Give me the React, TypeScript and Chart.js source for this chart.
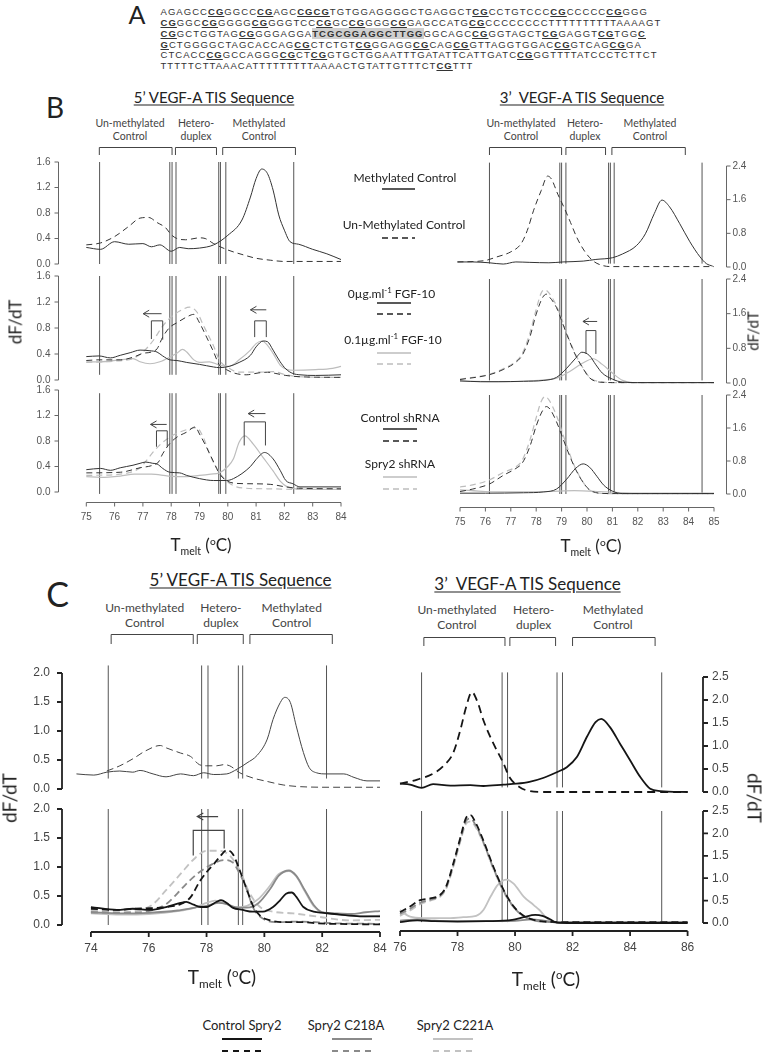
import React, { useEffect, useRef } from "react";
import { Chart, registerables } from "chart.js";

Chart.register(...registerables);

type Pt = [number, number];

// ================= Panel A: sequence =================
const seqLines: string[] = [
  "AGAGCC{CG}GGCC{CG}AGC{CGCG}TGTGGAGGGGCTGAGGCT{CG}CCTGTCCC{CG}CCCCC{CG}GGG",
  "{CG}GGC{CG}GGGG{CG}GGGTCC{CG}GC{CG}GGG{CG}GAGCCATG{CG}CCCCCCCCTTTTTTTTTTAAAAGT",
  "{CG}GCTGGTAG{CG}GGGAGGA[TCGCGGAGGCTTGG]GGCAGC{CG}GGTAGCT{CG}GAGGT{CG}TGG{C}",
  "{G}CTGGGGCTAGCACCAG{CG}CTCTGT{CG}GGAGG{CG}CAG{CG}GTTAGGTGGAC{CG}GTCAG{CG}GA",
  "CTCACC{CG}GCCAGGG{CG}CT{CG}GTGCTGGAATTTGATATTCATTGATC{CG}GGTTTTATCCCTCTTCT",
  "TTTTTCTTAAACATTTTTTTTTAAAACTGTATTGTTTCT{CG}TTT",
];

// ================= Panel B: 5' =================
const b5YTicks = [0, 0.4, 0.8, 1.2, 1.6];
const b5XTicks = [75, 76, 77, 78, 79, 80, 81, 82, 83, 84];
const b5VLines = [75.47, 77.95, 78.03, 78.17, 79.68, 79.74, 79.93, 82.33];
const b5Regions: Pt[] = [[75.46, 78.03], [78.15, 79.6], [79.82, 82.39]];

const b5MethCtrl: Pt[] = [[75.0,0.26],[75.5,0.23],[76.0,0.35],[76.5,0.31],[77.0,0.32],[77.3,0.27],[77.6,0.30],[78.0,0.20],[78.3,0.26],[78.6,0.24],[79.0,0.25],[79.5,0.30],[80.0,0.45],[80.5,0.69],[80.8,1.05],[81.0,1.34],[81.2,1.49],[81.4,1.42],[81.6,1.16],[81.8,0.77],[82.0,0.53],[82.2,0.35],[82.5,0.31],[83.0,0.23],[83.5,0.16],[84.0,0.07]];
const b5UnmethCtrl: Pt[] = [[75.0,0.30],[75.5,0.33],[76.0,0.43],[76.5,0.59],[76.9,0.72],[77.2,0.73],[77.5,0.65],[77.8,0.57],[78.0,0.46],[78.2,0.40],[78.5,0.38],[79.0,0.41],[79.2,0.40],[79.5,0.32],[80.0,0.22],[80.5,0.15],[81.0,0.09],[81.5,0.06],[82.0,0.04],[83.0,0.04],[84.0,0.04]];

const b5Fgf0Solid: Pt[] = [[75.0,0.36],[75.45,0.37],[75.85,0.34],[76.2,0.38],[76.55,0.42],[76.9,0.46],[77.25,0.45],[77.5,0.43],[77.7,0.37],[77.95,0.31],[78.2,0.30],[78.55,0.27],[79.0,0.24],[79.5,0.20],[79.7,0.19],[80.05,0.21],[80.4,0.27],[80.8,0.38],[81.0,0.51],[81.25,0.60],[81.4,0.59],[81.6,0.46],[81.85,0.28],[82.05,0.17],[82.3,0.10],[82.55,0.08],[83.1,0.07],[84.0,0.08]];
const b5Fgf0Dash: Pt[] = [[75.0,0.30],[75.45,0.31],[76.2,0.31],[76.65,0.35],[77.0,0.41],[77.3,0.43],[77.5,0.48],[77.7,0.66],[77.95,0.81],[78.2,0.88],[78.55,0.97],[78.8,1.01],[79.0,0.88],[79.25,0.66],[79.5,0.43],[79.7,0.23],[79.95,0.16],[80.2,0.11],[80.65,0.08],[81.1,0.11],[81.4,0.12],[81.7,0.10],[82.05,0.07],[82.55,0.05],[84.0,0.04]];
const b5Fgf01Solid: Pt[] = [[75.0,0.28],[75.5,0.28],[76.2,0.31],[76.65,0.33],[76.9,0.28],[77.25,0.25],[77.6,0.28],[77.95,0.35],[78.2,0.41],[78.4,0.47],[78.55,0.43],[78.8,0.31],[79.0,0.27],[79.35,0.28],[79.7,0.23],[80.05,0.21],[80.4,0.31],[80.8,0.46],[81.0,0.56],[81.2,0.60],[81.35,0.56],[81.6,0.41],[81.85,0.23],[82.05,0.17],[82.3,0.15],[83.1,0.16],[83.7,0.18],[84.0,0.21]];
const b5Fgf01Dash: Pt[] = [[75.0,0.27],[76.0,0.29],[76.65,0.33],[77.0,0.43],[77.35,0.60],[77.7,0.83],[77.95,0.95],[78.3,1.06],[78.65,1.12],[78.9,1.05],[79.15,0.83],[79.5,0.52],[79.7,0.31],[80.05,0.18],[80.4,0.12],[81.1,0.12],[81.6,0.13],[82.05,0.08],[82.55,0.05],[84.0,0.04]];

const b5ShCtrlSolid: Pt[] = [[75.0,0.35],[75.5,0.37],[75.85,0.34],[76.2,0.38],[76.65,0.42],[76.9,0.45],[77.1,0.47],[77.35,0.45],[77.5,0.44],[77.7,0.37],[77.95,0.31],[78.3,0.30],[78.55,0.26],[79.0,0.21],[79.5,0.18],[79.95,0.18],[80.2,0.21],[80.8,0.40],[81.0,0.51],[81.3,0.62],[81.6,0.52],[81.85,0.34],[82.05,0.18],[82.3,0.13],[82.55,0.08],[84.0,0.08]];
const b5ShCtrlDash: Pt[] = [[75.0,0.30],[76.2,0.31],[76.9,0.38],[77.35,0.42],[77.55,0.47],[77.7,0.60],[77.95,0.76],[78.2,0.86],[78.55,0.94],[78.85,1.02],[79.0,0.91],[79.25,0.70],[79.5,0.47],[79.7,0.29],[79.95,0.18],[80.2,0.14],[80.7,0.13],[81.5,0.12],[82.05,0.08],[82.5,0.06],[84.0,0.05]];
const b5ShSprySolid: Pt[] = [[75.0,0.24],[75.5,0.23],[76.2,0.25],[76.7,0.28],[77.3,0.28],[77.9,0.25],[78.5,0.24],[79.0,0.26],[79.4,0.28],[79.7,0.30],[80.0,0.40],[80.2,0.52],[80.4,0.78],[80.6,0.88],[80.9,0.75],[81.25,0.54],[81.6,0.33],[81.85,0.17],[82.1,0.08],[82.4,0.05],[84.0,0.04]];
const b5ShSpryDash: Pt[] = [[75.0,0.26],[76.2,0.28],[76.9,0.38],[77.1,0.48],[77.35,0.62],[77.6,0.74],[77.95,0.86],[78.3,0.94],[78.65,0.99],[78.9,1.01],[79.15,0.84],[79.35,0.60],[79.6,0.38],[79.85,0.22],[80.2,0.10],[80.6,0.06],[81.5,0.05],[82.5,0.04],[84.0,0.04]];

// ================= Panel B: 3' =================
const b3YTicks = [0, 0.8, 1.6, 2.4];
const b3XTicks = [75, 76, 77, 78, 79, 80, 81, 82, 83, 84, 85];
const b3VLines = [76.16, 78.93, 79.0, 79.17, 80.85, 80.92, 81.07, 84.53];
const b3Regions: Pt[] = [[76.16, 79.0], [79.17, 80.73], [80.98, 83.87]];

const b3MethCtrl: Pt[] = [[74.9,0.12],[75.5,0.12],[76.15,0.10],[76.7,0.07],[77.2,0.12],[77.75,0.11],[78.5,0.10],[79.05,0.12],[79.85,0.14],[80.35,0.18],[81.0,0.22],[81.4,0.31],[81.95,0.51],[82.3,0.79],[82.65,1.27],[82.95,1.59],[83.25,1.43],[83.65,1.03],[84.05,0.60],[84.45,0.24],[84.7,0.08],[84.95,0.02]];
const b3UnmethCtrl: Pt[] = [[74.9,0.12],[75.95,0.15],[76.45,0.24],[77.0,0.36],[77.4,0.55],[77.65,0.87],[77.9,1.35],[78.2,1.82],[78.45,2.16],[78.6,2.09],[78.85,1.73],[79.1,1.41],[79.35,1.06],[79.6,0.70],[79.9,0.38],[80.25,0.14],[80.65,0.03],[81.0,0.01],[85.0,0.01]];

const b3Fgf0Dash: Pt[] = [[75.0,0.08],[76.15,0.19],[76.7,0.31],[77.2,0.48],[77.45,0.64],[77.75,1.06],[78.0,1.59],[78.25,1.97],[78.4,2.05],[78.5,2.0],[78.8,1.74],[79.05,1.36],[79.3,0.98],[79.55,0.64],[79.85,0.33],[80.1,0.12],[80.5,0.02],[81.0,0.01],[85.0,0.01]];
const b3Fgf01Dash: Pt[] = [[75.0,0.09],[76.15,0.20],[76.7,0.33],[77.2,0.50],[77.45,0.68],[77.75,1.15],[78.0,1.70],[78.2,2.08],[78.35,2.15],[78.5,2.08],[78.8,1.78],[79.05,1.40],[79.3,1.00],[79.55,0.66],[79.85,0.34],[80.1,0.13],[80.5,0.03],[81.0,0.01],[85.0,0.01]];
const b3Fgf0Solid: Pt[] = [[75.0,0.05],[75.8,0.03],[76.5,0.03],[77.5,0.04],[78.3,0.06],[78.8,0.13],[79.2,0.34],[79.55,0.57],[79.8,0.71],[80.1,0.63],[80.35,0.42],[80.6,0.23],[81.0,0.09],[81.4,0.02],[82.0,0.01],[85.0,0.01]];
const b3Fgf01Solid: Pt[] = [[75.0,0.04],[76.5,0.03],[77.5,0.04],[78.3,0.07],[78.8,0.11],[79.3,0.26],[79.8,0.45],[80.25,0.56],[80.6,0.43],[81.0,0.23],[81.4,0.06],[81.8,0.01],[85.0,0.01]];

const b3ShCtrlDash: Pt[] = [[75.0,0.06],[75.5,0.12],[76.15,0.24],[76.7,0.45],[77.2,0.62],[77.45,0.75],[77.75,1.15],[78.0,1.65],[78.25,2.02],[78.4,2.12],[78.55,2.05],[78.8,1.75],[79.05,1.35],[79.3,0.95],[79.55,0.60],[79.85,0.28],[80.1,0.10],[80.5,0.02],[81.0,0.01],[85.0,0.01]];
const b3ShSpryDash: Pt[] = [[75.0,0.17],[75.5,0.22],[76.15,0.34],[76.7,0.52],[77.2,0.66],[77.45,0.82],[77.75,1.30],[78.0,1.85],[78.2,2.25],[78.35,2.36],[78.5,2.28],[78.8,1.90],[79.05,1.45],[79.3,1.00],[79.55,0.62],[79.85,0.28],[80.1,0.10],[80.5,0.02],[81.0,0.01],[85.0,0.01]];
const b3ShCtrlSolid: Pt[] = [[75.0,0.02],[76.0,0.02],[77.5,0.03],[78.3,0.05],[78.8,0.12],[79.2,0.36],[79.55,0.62],[79.85,0.73],[80.1,0.65],[80.4,0.42],[80.65,0.22],[81.0,0.07],[81.4,0.01],[85.0,0.01]];
const b3ShSprySolid: Pt[] = [[75.0,0.10],[76.0,0.06],[77.0,0.05],[78.5,0.06],[79.5,0.08],[80.5,0.06],[81.5,0.03],[83.0,0.02],[85.0,0.02]];

// ================= Panel C: 5' =================
const c5YTicks = [0, 0.5, 1.0, 1.5, 2.0];
const c5XTicks = [74, 76, 78, 80, 82, 84];
const c5VLines = [74.6, 77.83, 78.05, 79.1, 79.25, 82.15];
const c5Regions: Pt[] = [[74.7, 77.54], [77.68, 79.27], [79.5, 82.35]];

const c5MethCtrl: Pt[] = [[73.5,0.26],[74.1,0.24],[74.55,0.29],[75.0,0.31],[75.45,0.29],[75.7,0.32],[76.15,0.26],[76.6,0.21],[77.1,0.26],[77.55,0.23],[77.9,0.28],[78.25,0.25],[78.7,0.26],[79.05,0.34],[79.4,0.45],[79.75,0.58],[80.1,0.86],[80.3,1.20],[80.55,1.49],[80.7,1.58],[80.9,1.49],[81.1,1.09],[81.35,0.63],[81.55,0.37],[81.8,0.28],[82.15,0.26],[82.75,0.26],[83.1,0.20],[83.55,0.14],[84.0,0.14]];
const c5UnmethCtrl: Pt[] = [[74.55,0.31],[75.0,0.40],[75.45,0.52],[75.9,0.66],[76.4,0.75],[76.6,0.71],[77.1,0.62],[77.45,0.56],[77.75,0.42],[78.0,0.40],[78.35,0.40],[78.6,0.42],[78.8,0.40],[79.15,0.28],[79.6,0.19],[80.1,0.13],[80.65,0.07],[81.25,0.04],[82.4,0.03],[83.55,0.03],[84.0,0.03]];

const c5CtrlSolid: Pt[] = [[74.0,0.31],[74.9,0.26],[75.45,0.28],[76.05,0.26],[76.6,0.31],[77.1,0.38],[77.3,0.40],[77.55,0.35],[77.8,0.31],[78.0,0.31],[78.35,0.40],[78.5,0.43],[78.7,0.38],[78.9,0.30],[79.25,0.26],[79.6,0.23],[79.95,0.23],[80.3,0.31],[80.55,0.43],[80.75,0.54],[80.95,0.56],[81.1,0.49],[81.35,0.31],[81.7,0.23],[82.05,0.21],[82.6,0.18],[83.3,0.15],[84.0,0.15]];
const c5CtrlDash: Pt[] = [[74.0,0.28],[74.9,0.26],[75.45,0.28],[76.05,0.29],[76.6,0.31],[77.1,0.36],[77.45,0.48],[77.75,0.74],[78.0,0.91],[78.25,1.05],[78.45,1.17],[78.7,1.29],[78.9,1.23],[79.15,0.94],[79.4,0.60],[79.6,0.34],[79.85,0.16],[80.2,0.08],[80.65,0.05],[81.25,0.05],[81.8,0.03],[82.4,0.02],[84.0,0.01]];
const c5C218Solid: Pt[] = [[74.0,0.22],[75.0,0.20],[76.0,0.21],[77.0,0.25],[77.6,0.30],[78.0,0.33],[78.4,0.38],[78.7,0.36],[79.0,0.31],[79.4,0.30],[79.8,0.38],[80.2,0.62],[80.5,0.85],[80.85,0.94],[81.1,0.85],[81.4,0.60],[81.7,0.35],[82.0,0.22],[82.5,0.20],[83.0,0.19],[83.5,0.22],[84.0,0.24]];
const c5C218Dash: Pt[] = [[74.0,0.22],[75.0,0.21],[76.0,0.24],[76.6,0.36],[77.0,0.55],[77.3,0.71],[77.75,0.91],[78.2,1.05],[78.6,1.12],[78.9,1.08],[79.15,0.88],[79.4,0.60],[79.6,0.31],[79.95,0.11],[80.45,0.05],[81.2,0.06],[82.4,0.03],[84.0,0.02]];
const c5C221Solid: Pt[] = [[74.0,0.20],[75.0,0.18],[76.0,0.19],[77.0,0.24],[77.6,0.30],[78.0,0.38],[78.3,0.42],[78.6,0.38],[79.0,0.30],[79.4,0.33],[79.8,0.45],[80.2,0.68],[80.5,0.88],[80.85,0.93],[81.1,0.84],[81.4,0.58],[81.7,0.33],[82.0,0.22],[82.5,0.19],[83.0,0.16],[83.5,0.15],[84.0,0.16]];
const c5C221Dash: Pt[] = [[74.0,0.25],[75.0,0.22],[75.7,0.26],[76.15,0.36],[76.6,0.60],[77.1,0.88],[77.55,1.13],[78.0,1.28],[78.45,1.28],[78.8,1.20],[79.15,0.94],[79.5,0.54],[79.85,0.31],[80.3,0.23],[81.0,0.20],[81.9,0.14],[82.95,0.08],[84.0,0.09]];

// ================= Panel C: 3' =================
const c3YTicks = [0, 0.5, 1.0, 1.5, 2.0, 2.5];
const c3XTicks = [76, 78, 80, 82, 84, 86];
const c3VLines = [76.75, 79.55, 79.74, 81.46, 81.65, 85.1];
const c3Regions: Pt[] = [[76.83, 79.65], [79.82, 81.41], [82.0, 84.87]];

const c3MethCtrl: Pt[] = [[76.0,0.18],[76.35,0.16],[76.75,0.09],[77.15,0.17],[77.75,0.14],[78.45,0.15],[78.9,0.13],[79.6,0.16],[80.05,0.18],[80.5,0.22],[81.0,0.31],[81.45,0.43],[81.8,0.54],[82.15,0.76],[82.5,1.20],[82.8,1.52],[83.0,1.59],[83.3,1.41],[83.65,1.05],[84.0,0.69],[84.35,0.33],[84.7,0.07],[85.05,0.02],[86.0,0.0]];
const c3UnmethCtrl: Pt[] = [[76.0,0.18],[76.6,0.27],[77.15,0.40],[77.5,0.56],[77.85,0.85],[78.1,1.35],[78.3,1.85],[78.5,2.17],[78.7,1.95],[78.9,1.56],[79.25,1.05],[79.6,0.62],[79.8,0.33],[80.15,0.11],[80.5,0.02],[81.0,0.0],[86.0,0.0]];

const c3CtrlSolid: Pt[] = [[76.0,0.02],[76.6,0.06],[77.2,0.04],[78.0,0.03],[79.0,0.04],[79.9,0.07],[80.3,0.13],[80.7,0.18],[80.95,0.16],[81.2,0.09],[81.45,0.01],[82.0,0.0],[86.0,0.0]];
const c3CtrlDash: Pt[] = [[76.0,0.24],[76.35,0.37],[76.7,0.51],[77.05,0.55],[77.4,0.63],[77.6,0.81],[77.85,1.32],[78.1,1.91],[78.3,2.35],[78.45,2.41],[78.65,2.21],[78.9,1.84],[79.25,1.25],[79.6,0.74],[79.95,0.37],[80.3,0.16],[80.65,0.07],[81.0,0.03],[82.0,0.02],[86.0,0.02]];
const c3C218Solid: Pt[] = [[76.0,0.05],[76.6,0.08],[77.2,0.05],[78.0,0.04],[79.0,0.04],[80.0,0.05],[80.6,0.08],[81.0,0.05],[81.5,0.01],[86.0,0.01]];
const c3C218Dash: Pt[] = [[76.0,0.20],[76.35,0.32],[76.7,0.45],[77.05,0.52],[77.4,0.61],[77.6,0.78],[77.85,1.28],[78.1,1.86],[78.3,2.28],[78.45,2.33],[78.65,2.16],[78.9,1.80],[79.25,1.22],[79.6,0.72],[79.95,0.36],[80.3,0.15],[80.65,0.06],[81.0,0.03],[82.0,0.02],[86.0,0.02]];
const c3C221Solid: Pt[] = [[76.0,0.29],[76.35,0.14],[76.8,0.11],[77.75,0.11],[78.2,0.13],[78.65,0.16],[78.9,0.29],[79.15,0.59],[79.4,0.85],[79.7,0.97],[79.95,0.88],[80.3,0.59],[80.65,0.40],[80.85,0.29],[81.1,0.11],[81.45,0.01],[82.0,0.0],[86.0,0.0]];
const c3C221Dash: Pt[] = [[76.0,0.16],[76.35,0.28],[76.7,0.42],[77.05,0.50],[77.4,0.59],[77.6,0.76],[77.85,1.25],[78.1,1.83],[78.3,2.22],[78.45,2.27],[78.65,2.12],[78.9,1.78],[79.25,1.20],[79.6,0.70],[79.95,0.35],[80.3,0.15],[80.65,0.06],[81.0,0.03],[82.0,0.02],[86.0,0.02]];

// ================= styles =================
const BK = "#333333";
const BL = "#bdbdbd";
const CK = "#151515";
const CG = "#8a8a8a";
const CL = "#c2c2c2";
const DASH_B = [6, 4];
const DASH_C = [7, 4];

type Series = { pts: Pt[]; color: string; dash?: number[]; width?: number };
type Br = { x1: number; x2: number; top: number; l: number; r: number };
type Ar = { from: number; to: number; y: number };
type AxisStyle = { color: string; width: number; tick: number; font: string; text: string; yGap: number; xDy: number };

const AX_B: AxisStyle = { color: "#666", width: 1, tick: 4, font: '10px "Liberation Sans", Arial, sans-serif', text: "#555", yGap: 4, xDy: 15 };
const AX_BR: AxisStyle = { ...AX_B, yGap: 2 };
const AX_C: AxisStyle = { color: "#222", width: 1.8, tick: 5, font: '12px "Liberation Sans", Arial, sans-serif', text: "#444", yGap: 7, xDy: 17 };
const AX_CR: AxisStyle = { ...AX_C, yGap: 4 };

interface PlotProps {
  area: number[];
  xr: number[];
  yr: number[];
  series: Series[];
  vlines: number[];
  vr: number[];
  vWidth?: number;
  yTicks: number[];
  ySide: "left" | "right";
  axis: AxisStyle;
  xTicks?: number[];
  xGap?: number;
  regions?: Pt[];
  regY?: number[];
  brackets?: Br[];
  arrows?: Ar[];
  annWidth?: number;
}

const PAD = { left: 56, top: 50, right: 56, bottom: 44 };

function Plot(p: PlotProps) {
  const ref = useRef<HTMLCanvasElement | null>(null);
  const L = Math.round(p.area[0]);
  const T = Math.round(p.area[1]);
  const R = Math.round(p.area[2]);
  const B = Math.round(p.area[3]);
  const w = R - L + PAD.left + PAD.right;
  const h = B - T + PAD.top + PAD.bottom;

  useEffect(() => {
    const canvas = ref.current;
    if (!canvas) return;
    const decor = {
      id: "decor",
      afterDraw(chart: any) {
        const ctx = chart.ctx;
        const a = chart.chartArea;
        const xs = chart.scales.x;
        const ys = chart.scales.y;
        const px = (v: number) => xs.getPixelForValue(v);
        const py = (v: number) => ys.getPixelForValue(v);
        const ax = p.axis;
        const off = ax.width === 1 ? 0.5 : 0;
        ctx.save();
        ctx.strokeStyle = ax.color;
        ctx.lineWidth = ax.width;
        ctx.fillStyle = ax.text;
        ctx.font = ax.font;
        const yx = (p.ySide === "left" ? a.left : a.right) + off;
        const dir = p.ySide === "left" ? -1 : 1;
        const yt = p.yTicks;
        ctx.beginPath();
        ctx.moveTo(yx, py(yt[0]));
        ctx.lineTo(yx, py(yt[yt.length - 1]));
        for (const t of yt) {
          ctx.moveTo(yx, py(t));
          ctx.lineTo(yx + dir * ax.tick, py(t));
        }
        ctx.stroke();
        ctx.textBaseline = "middle";
        ctx.textAlign = p.ySide === "left" ? "right" : "left";
        for (const t of yt) ctx.fillText(t.toFixed(1), yx + dir * (ax.tick + ax.yGap), py(t));
        if (p.xTicks) {
          const xt = p.xTicks;
          const yy = a.bottom + (p.xGap || 0) + off;
          ctx.beginPath();
          ctx.moveTo(px(xt[0]), yy);
          ctx.lineTo(px(xt[xt.length - 1]), yy);
          for (const t of xt) {
            ctx.moveTo(px(t), yy);
            ctx.lineTo(px(t), yy + ax.tick);
          }
          ctx.stroke();
          ctx.textAlign = "center";
          for (const t of xt) ctx.fillText(String(t), px(t), yy + ax.xDy);
        }
        ctx.strokeStyle = "#444";
        ctx.lineWidth = p.annWidth || 1;
        if (p.regions && p.regY) {
          const top = a.top + p.regY[0] - T + 0.5;
          const bot = a.top + p.regY[1] - T;
          ctx.beginPath();
          for (const [x1, x2] of p.regions) {
            ctx.moveTo(px(x1), bot);
            ctx.lineTo(px(x1), top);
            ctx.lineTo(px(x2), top);
            ctx.lineTo(px(x2), bot);
          }
          ctx.stroke();
        }
        if (p.brackets) {
          ctx.beginPath();
          for (const b of p.brackets) {
            ctx.moveTo(px(b.x1), py(b.l));
            ctx.lineTo(px(b.x1), py(b.top));
            ctx.lineTo(px(b.x2), py(b.top));
            ctx.lineTo(px(b.x2), py(b.r));
          }
          ctx.stroke();
        }
        if (p.arrows) {
          ctx.beginPath();
          for (const r of p.arrows) {
            const x0 = px(r.from), x1 = px(r.to), y0 = py(r.y);
            ctx.moveTo(x0, y0);
            ctx.lineTo(x1, y0);
            ctx.moveTo(x1 + 6, y0 - 3.5);
            ctx.lineTo(x1, y0);
            ctx.lineTo(x1 + 6, y0 + 3.5);
          }
          ctx.stroke();
        }
        ctx.restore();
      },
    };

    const datasets: any[] = [
      ...p.series.map((s) => ({
        data: s.pts.map(([x, y]) => ({ x, y })),
        borderColor: s.color,
        borderWidth: s.width ?? 1,
        borderDash: s.dash ?? [],
        pointRadius: 0,
        fill: false,
        cubicInterpolationMode: "monotone",
        clip: false,
      })),
      ...p.vlines.map((v) => ({
        data: [{ x: v, y: p.vr[0] }, { x: v, y: p.vr[1] }],
        borderColor: "#555",
        borderWidth: p.vWidth ?? 1,
        pointRadius: 0,
        fill: false,
        tension: 0,
        clip: false,
      })),
    ];

    const chart = new Chart(canvas, {
      type: "line",
      data: { datasets },
      options: {
        animation: false,
        responsive: false,
        events: [],
        layout: { padding: PAD },
        scales: {
          x: { type: "linear", min: p.xr[0], max: p.xr[1], display: false },
          y: { type: "linear", min: p.yr[0], max: p.yr[1], display: false },
        },
        plugins: { legend: { display: false }, tooltip: { enabled: false } },
      } as any,
      plugins: [decor as any],
    });
    return () => chart.destroy();
  }, []);

  return (
    <canvas
      ref={ref}
      width={w}
      height={h}
      style={{ position: "absolute", left: L - PAD.left, top: T - PAD.top, width: w, height: h }}
    />
  );
}

const SANS = 'Lato, "Open Sans", sans-serif';

function Txt(props: { x: number; y: number; size: number; children: any; color?: string; rot?: number; underline?: boolean; family?: string; pre?: boolean }) {
  return (
    <div
      style={{
        position: "absolute",
        left: props.x,
        top: props.y,
        transform: `translate(-50%, -50%) rotate(${props.rot || 0}deg)`,
        fontSize: props.size,
        fontFamily: props.family || SANS,
        color: props.color || "#222",
        whiteSpace: props.pre ? "pre" : "nowrap",
        lineHeight: 1,
        textDecoration: props.underline ? "underline" : "none",
        textUnderlineOffset: "2px",
      }}
    >
      {props.children}
    </div>
  );
}

function Sample(props: { x1: number; x2: number; y: number; color: string; dash?: string; w?: number }) {
  return (
    <svg style={{ position: "absolute", left: props.x1, top: props.y - 3, overflow: "visible" }} width={props.x2 - props.x1} height={6}>
      <line x1={0} y1={3} x2={props.x2 - props.x1} y2={3} stroke={props.color} strokeWidth={props.w || 1.6} strokeDasharray={props.dash} />
    </svg>
  );
}

function Tmelt(props: { x: number; y: number; size: number }) {
  return (
    <Txt x={props.x} y={props.y} size={props.size} color="#222">
      <span>T</span>
      <span style={{ fontSize: "0.62em", verticalAlign: "-0.35em" }}>melt</span>
      <span> (</span>
      <span style={{ fontSize: "0.6em", verticalAlign: "0.55em" }}>o</span>
      <span>C)</span>
    </Txt>
  );
}

function SeqLine(props: { s: string; y: number }) {
  const parts: any[] = [];
  const re = /\{([^}]*)\}|\[([^\]]*)\]|([^{[]+)/g;
  let m: RegExpExecArray | null;
  let k = 0;
  while ((m = re.exec(props.s))) {
    if (m[1] !== undefined) parts.push(<span key={k++} style={{ fontWeight: 700, textDecoration: "underline" }}>{m[1]}</span>);
    else if (m[2] !== undefined) parts.push(<span key={k++} style={{ fontWeight: 700, background: "#cfcfcf" }}>{m[2]}</span>);
    else parts.push(<span key={k++}>{m[3]}</span>);
  }
  return (
    <div style={{ position: "absolute", left: 160.5, top: props.y - 5.5, height: 11, lineHeight: "11px", fontSize: 9.5, letterSpacing: "1.05px", fontFamily: '"Liberation Sans", Arial, sans-serif', color: "#333", whiteSpace: "nowrap" }}>
      {parts}
    </div>
  );
}

function Region(props: { x: number; y1: number; y2: number; size: number; a: string; b: string }) {
  return (
    <>
      <Txt x={props.x} y={props.y1} size={props.size} color="#444">{props.a}</Txt>
      <Txt x={props.x} y={props.y2} size={props.size} color="#444">{props.b}</Txt>
    </>
  );
}

export default function App() {
  const b5x = [74, 84];
  const b3x = [75, 75 + (726 - 460) / 25.4];
  const c5x = [73, 84];
  const c3x = [76, 76 + (703 - 400) / 28.76];
  return (
    <div style={{ position: "absolute", left: 0, top: 0, width: 766, height: 1055, overflow: "hidden", background: "#fff" }}>
      <Txt x={137} y={14} size={25}>A</Txt>
      {seqLines.map((s, i) => (
        <SeqLine key={i} s={s} y={11.7 + i * 10.8} />
      ))}

      <Txt x={55} y={107} size={28}>B</Txt>
      <Txt x={214} y={97} size={15} underline>5’ VEGF-A TIS Sequence</Txt>
      <Txt x={582} y={97} size={15} underline pre>{"3’  VEGF-A TIS Sequence"}</Txt>
      <Region x={130} y1={123} y2={136} size={10.5} a="Un-methylated" b="Control" />
      <Region x={196} y1={123} y2={136} size={10.5} a="Hetero-" b="duplex" />
      <Region x={259} y1={123} y2={136} size={10.5} a="Methylated" b="Control" />
      <Region x={521} y1={123} y2={136} size={10.5} a="Un-methylated" b="Control" />
      <Region x={585} y1={123} y2={136} size={10.5} a="Hetero-" b="duplex" />
      <Region x={650} y1={123} y2={136} size={10.5} a="Methylated" b="Control" />

      <Plot area={[58, 162, 341, 264]} xr={b5x} yr={[0, 1.6]} yTicks={b5YTicks} ySide="left" axis={AX_B}
        series={[{ pts: b5MethCtrl, color: BK }, { pts: b5UnmethCtrl, color: BK, dash: DASH_B }]}
        vlines={b5VLines} vr={[0.0, 1.6]} regions={b5Regions} regY={[147, 155]} />
      <Plot area={[58, 276, 341, 380]} xr={b5x} yr={[0, 1.6]} yTicks={b5YTicks} ySide="left" axis={AX_B}
        series={[
          { pts: b5Fgf0Solid, color: BK }, { pts: b5Fgf0Dash, color: BK, dash: DASH_B },
          { pts: b5Fgf01Solid, color: BL, width: 1.2 }, { pts: b5Fgf01Dash, color: BL, dash: DASH_B, width: 1.2 },
        ]}
        vlines={b5VLines} vr={[0.08, 1.6]}
        brackets={[{ x1: 77.3, x2: 77.7, top: 0.91, l: 0.63, r: 0.62 }, { x1: 80.95, x2: 81.36, top: 0.91, l: 0.66, r: 0.66 }]}
        arrows={[{ from: 77.66, to: 77.01, y: 1.02 }, { from: 81.36, to: 80.8, y: 1.08 }]} />
      <Plot area={[58, 390, 341, 492]} xr={b5x} yr={[0, 1.6]} yTicks={b5YTicks} ySide="left" axis={AX_B}
        series={[
          { pts: b5ShCtrlSolid, color: BK }, { pts: b5ShCtrlDash, color: BK, dash: DASH_B },
          { pts: b5ShSprySolid, color: BL, width: 1.2 }, { pts: b5ShSpryDash, color: BL, dash: DASH_B, width: 1.2 },
        ]}
        vlines={b5VLines} vr={[-0.03, 1.55]} xTicks={b5XTicks} xGap={10}
        brackets={[{ x1: 77.48, x2: 77.86, top: 0.96, l: 0.71, r: 0.71 }, { x1: 80.58, x2: 81.33, top: 1.1, l: 0.73, r: 0.73 }]}
        arrows={[{ from: 77.84, to: 77.27, y: 1.06 }, { from: 81.33, to: 80.72, y: 1.23 }]} />

      <Plot area={[460, 166, 726, 267]} xr={b3x} yr={[0, 2.4]} yTicks={b3YTicks} ySide="right" axis={AX_BR}
        series={[{ pts: b3MethCtrl, color: BK }, { pts: b3UnmethCtrl, color: BK, dash: DASH_B }]}
        vlines={b3VLines} vr={[0.08, 2.48]} regions={b3Regions} regY={[147, 155]} />
      <Plot area={[460, 279, 726, 383]} xr={b3x} yr={[0, 2.4]} yTicks={b3YTicks} ySide="right" axis={AX_BR}
        series={[
          { pts: b3Fgf0Dash, color: BK, dash: DASH_B }, { pts: b3Fgf0Solid, color: BK },
          { pts: b3Fgf01Dash, color: BL, dash: DASH_B, width: 1.2 }, { pts: b3Fgf01Solid, color: BL, width: 1.2 },
        ]}
        vlines={b3VLines} vr={[0.06, 2.4]}
        brackets={[{ x1: 79.96, x2: 80.35, top: 1.21, l: 0.67, r: 0.67 }]}
        arrows={[{ from: 80.4, to: 79.84, y: 1.42 }]} />
      <Plot area={[460, 395, 726, 494]} xr={b3x} yr={[0, 2.4]} yTicks={b3YTicks} ySide="right" axis={AX_BR}
        series={[
          { pts: b3ShCtrlDash, color: BK, dash: DASH_B }, { pts: b3ShCtrlSolid, color: BK },
          { pts: b3ShSpryDash, color: BL, dash: DASH_B, width: 1.2 }, { pts: b3ShSprySolid, color: BL, width: 1.2 },
        ]}
        vlines={b3VLines} vr={[0.0, 2.4]} xTicks={b3XTicks} xGap={13} />

      <Txt x={405} y={178} size={12}>Methylated Control</Txt>
      <Sample x1={382} x2={415} y={188.5} color="#222" />
      <Txt x={404} y={225} size={12}>Un-Methylated Control</Txt>
      <Sample x1={382} x2={415} y={238} color="#222" dash="6 4" />
      <Txt x={391.5} y={292.7} size={12}>0µg.ml<sup style={{ fontSize: "0.65em" }}>-1</sup> FGF-10</Txt>
      <Sample x1={377} x2={411} y={302.7} color="#222" />
      <Sample x1={377} x2={411} y={313.5} color="#222" dash="6 4" />
      <Txt x={393} y={339.3} size={12}>0.1µg.ml<sup style={{ fontSize: "0.65em" }}>-1</sup> FGF-10</Txt>
      <Sample x1={377} x2={411} y={353.3} color={BL} />
      <Sample x1={377} x2={411} y={364.3} color={BL} dash="6 4" />
      <Txt x={400} y={418.3} size={12}>Control shRNA</Txt>
      <Sample x1={383} x2={417} y={429.3} color="#222" />
      <Sample x1={383} x2={417} y={441} color="#222" dash="6 4" />
      <Txt x={400} y={464.3} size={12}>Spry2 shRNA</Txt>
      <Sample x1={383} x2={417} y={476.5} color={BL} />
      <Sample x1={383} x2={417} y={488.5} color={BL} dash="6 4" />

      <Tmelt x={201} y={546} size={17} />
      <Tmelt x={591} y={547} size={17} />
      <Txt x={15} y={322} size={17} rot={-90}>dF/dT</Txt>
      <Txt x={753} y={331} size={15} rot={-90}>dF/dT</Txt>

      <Txt x={57.5} y={594} size={34}>C</Txt>
      <Txt x={240.5} y={579} size={17} underline>5’ VEGF-A TIS Sequence</Txt>
      <Txt x={527.5} y={582.7} size={17} underline pre>{"3’  VEGF-A TIS Sequence"}</Txt>
      <Region x={144.7} y1={607.7} y2={623} size={12} a="Un-methylated" b="Control" />
      <Region x={220.8} y1={607.7} y2={623} size={12} a="Hetero-" b="duplex" />
      <Region x={291.7} y1={607.7} y2={623} size={12} a="Methylated" b="Control" />
      <Region x={457} y1={610} y2={625} size={12} a="Un-methylated" b="Control" />
      <Region x={533.7} y1={610} y2={625} size={12} a="Hetero-" b="duplex" />
      <Region x={613} y1={610} y2={625} size={12} a="Methylated" b="Control" />

      <Plot area={[62, 673, 380, 789]} xr={c5x} yr={[0, 2.0]} yTicks={c5YTicks} ySide="left" axis={AX_C}
        series={[{ pts: c5MethCtrl, color: "#444" }, { pts: c5UnmethCtrl, color: "#444", dash: DASH_C }]}
        vlines={c5VLines} vr={[0.18, 2.13]} regions={c5Regions} regY={[634, 644]} />
      <Plot area={[62, 809, 380, 925]} xr={c5x} yr={[0, 2.0]} yTicks={c5YTicks} ySide="left" axis={AX_C}
        series={[
          { pts: c5CtrlSolid, color: CK, width: 1.8 }, { pts: c5CtrlDash, color: CK, dash: DASH_C, width: 1.8 },
          { pts: c5C218Solid, color: CG, width: 1.8 }, { pts: c5C218Dash, color: CG, dash: DASH_C, width: 1.8 },
          { pts: c5C221Solid, color: CL, width: 1.8 }, { pts: c5C221Dash, color: CL, dash: DASH_C, width: 1.8 },
        ]}
        vlines={c5VLines} vr={[0.0, 2.0]} xTicks={c5XTicks} xGap={7}
        brackets={[{ x1: 77.54, x2: 78.61, top: 1.63, l: 1.2, r: 1.32 }]}
        arrows={[{ from: 78.4, to: 77.68, y: 1.87 }]} annWidth={1.2} />

      <Plot area={[400, 677, 703, 792]} xr={c3x} yr={[0, 2.5]} yTicks={c3YTicks} ySide="right" axis={AX_CR}
        series={[{ pts: c3MethCtrl, color: CK, width: 1.8 }, { pts: c3UnmethCtrl, color: CK, dash: [8, 5], width: 1.8 }]}
        vlines={c3VLines} vr={[0.1, 2.6]} regions={c3Regions} regY={[637, 646]} />
      <Plot area={[400, 811, 703, 923]} xr={c3x} yr={[0, 2.5]} yTicks={c3YTicks} ySide="right" axis={AX_CR}
        series={[
          { pts: c3CtrlDash, color: CK, dash: DASH_C, width: 1.8 }, { pts: c3CtrlSolid, color: CK, width: 1.8 },
          { pts: c3C218Dash, color: CG, dash: DASH_C, width: 1.8 }, { pts: c3C218Solid, color: CG, width: 1.8 },
          { pts: c3C221Dash, color: CL, dash: DASH_C, width: 1.8 }, { pts: c3C221Solid, color: CL, width: 1.8 },
        ]}
        vlines={c3VLines} vr={[0.02, 2.5]} xTicks={c3XTicks} xGap={8} />

      <Tmelt x={222} y={978} size={19} />
      <Tmelt x={546} y={980} size={19} />
      <Txt x={9} y={798} size={19} rot={-90}>dF/dT</Txt>
      <Txt x={755} y={798} size={19} rot={90}>dF/dT</Txt>

      <Txt x={242} y={1025} size={13}>Control Spry2</Txt>
      <Sample x1={222} x2={262} y={1039.3} color={CK} w={2} />
      <Sample x1={222} x2={262} y={1051} color={CK} w={2} dash="6 5" />
      <Txt x={346} y={1025} size={13}>Spry2 C218A</Txt>
      <Sample x1={332} x2={372} y={1039.3} color={CG} w={2} />
      <Sample x1={332} x2={372} y={1051} color={CG} w={2} dash="6 5" />
      <Txt x={455} y={1025} size={13}>Spry2 C221A</Txt>
      <Sample x1={433} x2={473} y={1039.3} color={CL} w={2} />
      <Sample x1={433} x2={473} y={1051} color={CL} w={2} dash="6 5" />
    </div>
  );
}
